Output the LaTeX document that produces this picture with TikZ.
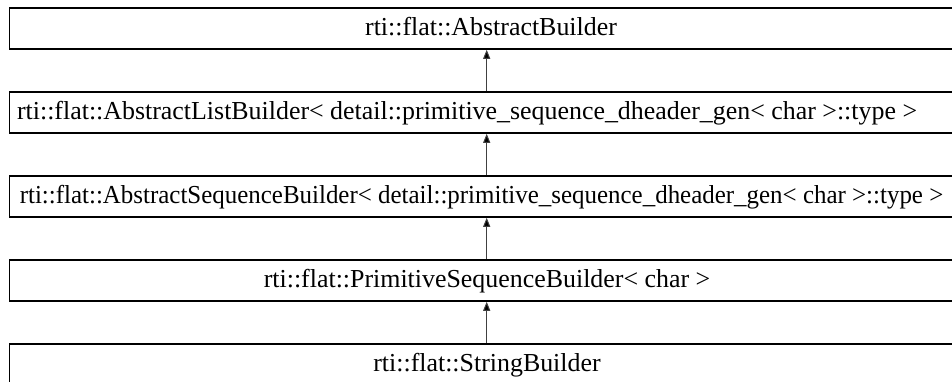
\documentclass[tikz,border=0pt]{standalone}
\usepackage{fontspec}
\setmainfont{Liberation Serif}
\usetikzlibrary{arrows.meta}
\tikzset{
  classbox/.style={draw=black, line width=1.5pt, fill=white, inner sep=0pt,
    minimum width=963pt, minimum height=41pt},
  classtext/.style={inner sep=0pt, text height=18pt, text depth=4.4pt,
    font=\fontsize{25.9}{30}\selectfont},
  inherit/.style={draw=black!75, line width=1pt, -{Triangle[length=9pt,width=7pt,fill=black]}}
}
\begin{document}
\begin{tikzpicture}[x=1pt,y=-1pt]
\useasboundingbox (0,0) rectangle (952,381);
\clip (0,0) rectangle (952,381);
\node[classbox] (b1) at (491,28.5) {};
\node[classbox] (b2) at (491,112.5) {};
\node[classbox] (b3) at (491,196.5) {};
\node[classbox] (b4) at (491,280.5) {};
\node[classbox] (b5) at (491,364.5) {};
\node[classtext] (t1) at (491,28.5) {rti::flat::AbstractBuilder};
\node[classtext] (t2) at (467,112.5) {rti::flat::AbstractListBuilder< detail::primitive\_sequence\_dheader\_gen< char >::type >};
\node[classtext] (t3) at (481.5,196.5) {\scalebox{0.963}[1]{rti::flat::AbstractSequenceBuilder< detail::primitive\_sequence\_dheader\_gen< char >::type >}};
\node[classtext] (t4) at (487,280.5) {rti::flat::PrimitiveSequenceBuilder< char >};
\node[classtext] (t5) at (487,364.5) {rti::flat::StringBuilder};
\draw[inherit] ([xshift=-4.3pt]b2.north) -- ([xshift=-4.3pt]b1.south);
\draw[inherit] ([xshift=-4.3pt]b3.north) -- ([xshift=-4.3pt]b2.south);
\draw[inherit] ([xshift=-4.3pt]b4.north) -- ([xshift=-4.3pt]b3.south);
\draw[inherit] ([xshift=-4.3pt]b5.north) -- ([xshift=-4.3pt]b4.south);
\end{tikzpicture}
\end{document}
